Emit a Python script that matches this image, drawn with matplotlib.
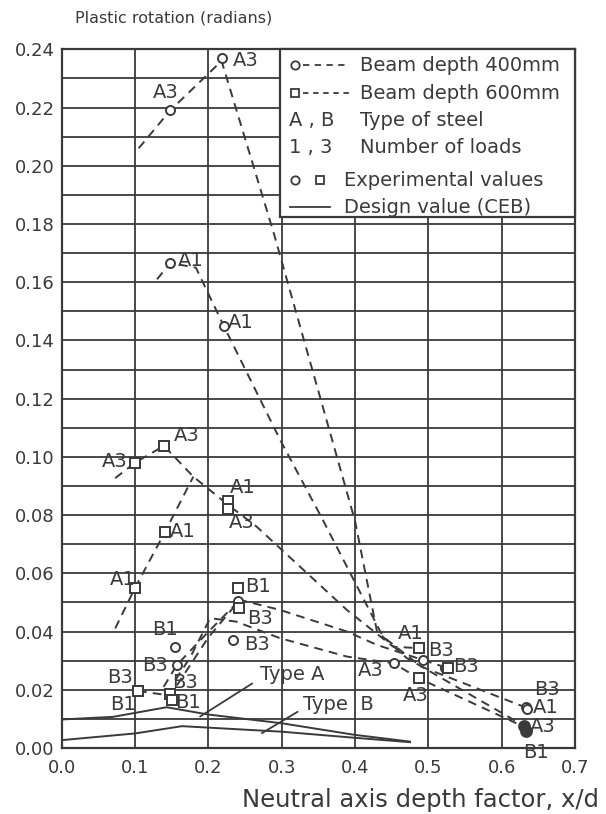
import numpy as np
import matplotlib
matplotlib.use('Agg')
import matplotlib.pyplot as plt
from matplotlib.patches import Rectangle
from matplotlib.lines import Line2D

INK = '#3a3a3a'
FONT = 'DejaVu Sans'

# ---------------- data ----------------
# Design values (CEB) - solid lines
typeA_x = [0.0, 0.07, 0.143, 0.20, 0.30, 0.40, 0.475]
typeA_y = [0.0098, 0.0107, 0.0140, 0.0115, 0.0085, 0.0045, 0.0022]
typeB_x = [0.0, 0.10, 0.164, 0.30, 0.40, 0.475]
typeB_y = [0.0027, 0.0050, 0.0075, 0.0056, 0.0035, 0.0020]

# dashed trend lines
a3_400_x = [0.105, 0.148, 0.218, 0.289, 0.400, 0.430, 0.470, 0.628]
a3_400_y = [0.206, 0.219, 0.236, 0.177, 0.078, 0.040, 0.031, 0.008]
a1_400_x = [0.130, 0.148, 0.183, 0.221, 0.298, 0.356, 0.438, 0.490, 0.632]
a1_400_y = [0.161, 0.1666, 0.165, 0.145, 0.1058, 0.0784, 0.0383, 0.028, 0.014]
a3_600_x = [0.073, 0.100, 0.1395, 0.1795, 0.227, 0.266, 0.389, 0.452, 0.4866]
a3_600_y = [0.0927, 0.098, 0.1038, 0.0932, 0.0835, 0.076, 0.0474, 0.0348, 0.0343]
a1_600_x = [0.073, 0.100, 0.141, 0.1795]
a1_600_y = [0.0411, 0.055, 0.0743, 0.0932]
b_600_x = [0.104, 0.148, 0.200, 0.243, 0.298, 0.389, 0.430, 0.493, 0.527]
b_600_y = [0.0196, 0.018, 0.038, 0.0509, 0.0474, 0.040, 0.0354, 0.0302, 0.0274]
b1_400_x = [0.139, 0.157, 0.198, 0.243]
b1_400_y = [0.021, 0.0285, 0.0394, 0.0509]
b3_400_x = [0.155, 0.175, 0.2025, 0.238, 0.298, 0.389, 0.4525, 0.4866, 0.620]
b3_400_y = [0.0234, 0.031, 0.0446, 0.0434, 0.0377, 0.0314, 0.0291, 0.024, 0.0085]

# experimental values, beam depth 400mm (circles)
circ_x = [0.218, 0.148, 0.148, 0.221, 0.100, 0.155, 0.157, 0.233, 0.241,
          0.4525, 0.493, 0.523, 0.633, 0.634]
circ_y = [0.237, 0.219, 0.1666, 0.145, 0.0978, 0.0348, 0.0285, 0.0371, 0.0505,
          0.0291, 0.0302, 0.0274, 0.014, 0.0135]
circ_lab = ['A3', 'A3', 'A1', 'A1', 'A3', 'B1', 'B3', 'B3', '',
            'A3', 'B3', '', 'A1', 'B3']
# filled cluster at x/d ~ 0.63
fill_x = [0.630, 0.633]
fill_y = [0.0075, 0.006]
fill_lab = ['A3', 'B1']

# experimental values, beam depth 600mm (squares)
sq_x = [0.1395, 0.100, 0.141, 0.227, 0.227, 0.100, 0.241, 0.242, 0.104, 0.104,
        0.148, 0.150, 0.4866, 0.527, 0.4866]
sq_y = [0.1038, 0.0978, 0.0743, 0.085, 0.0822, 0.0549, 0.0549, 0.048, 0.0196, 0.0196,
        0.0185, 0.0165, 0.0343, 0.0274, 0.024]
sq_lab = ['A3', '', 'A1', 'A1', 'A3', 'A1', 'B1', 'B3', 'B3', 'B1',
          'B3', 'B1', 'A1', 'B3', 'A3']

x_ticks = [0.0, 0.1, 0.2, 0.3, 0.4, 0.5, 0.6, 0.7]
y_ticks = [0.00, 0.02, 0.04, 0.06, 0.08, 0.10, 0.12, 0.14, 0.16, 0.18, 0.20, 0.22, 0.24]

# label offsets (pixels) - style only
circ_off = [(24, -2), (-5, 18), (20, 2), (17, 3), (-20, 2), (-10, 17), (-22, 0),
            (24, -5), (0, 0), (-23, -7), (18, 10), (0, 0), (20, 0), (20, 19)]
fill_off = [(19, 0), (10, -22)]
sq_off = [(23, 10), (0, 0), (18, 0), (15, 13), (14, -14), (-12, 9), (20, 2), (21, -10),
          (-18, 13), (-15, -14), (15, 12), (16, -3), (-8, 15), (18, 2), (-3, -17)]

# ---------------- figure ----------------
fig = plt.figure(figsize=(6.06, 8.14), dpi=100)
L, R, T, B = 61.7, 575.0, 49.3, 748.0
W, H = 606.0, 814.0
ax = fig.add_axes([L / W, 1 - B / H, (R - L) / W, (B - T) / H])
ax.set_xlim(0, 0.7)
ax.set_ylim(0, 0.24)

ax.set_xticks(x_ticks)
ax.set_xticklabels(['%.1f' % v for v in x_ticks])
ax.set_yticks(y_ticks)
ax.set_yticklabels(['%.2f' % v for v in y_ticks])
ax.set_yticks(np.arange(0.01, 0.24, 0.02), minor=True)
ax.tick_params(which='both', length=0, colors=INK, labelsize=13)
ax.tick_params(axis='x', pad=8)
ax.tick_params(axis='y', pad=5)
for lab in ax.get_xticklabels() + ax.get_yticklabels():
    lab.set_family(FONT)
ax.grid(True, which='both', color=INK, lw=1.3, zorder=0)
for s in ax.spines.values():
    s.set_color(INK)
    s.set_linewidth(1.6)

dash = (0, (4.5, 3.2))
for xs, ys in [(a3_400_x, a3_400_y), (a1_400_x, a1_400_y), (a3_600_x, a3_600_y),
               (a1_600_x, a1_600_y), (b_600_x, b_600_y), (b1_400_x, b1_400_y),
               (b3_400_x, b3_400_y)]:
    ax.plot(xs, ys, ls=dash, color=INK, lw=1.4, zorder=3)

ax.plot(typeA_x, typeA_y, color=INK, lw=1.4, zorder=3)
ax.plot(typeB_x, typeB_y, color=INK, lw=1.4, zorder=3)

ax.plot(circ_x, circ_y, 'o', ms=6.5, mfc='white', mec=INK, mew=1.4, zorder=4)
ax.plot(fill_x, fill_y, 'o', ms=8, mfc=INK, mec=INK, mew=1.2, zorder=4)
ax.plot(sq_x, sq_y, 's', ms=7, mfc='white', mec=INK, mew=1.4, zorder=4)

def lab_points(xs, ys, labs, offs):
    for x, y, t, o in zip(xs, ys, labs, offs):
        if t:
            ax.annotate(t, (x, y), xytext=o, textcoords='offset pixels',
                        ha='center', va='center', fontsize=14, color=INK,
                        family=FONT, zorder=5)

lab_points(circ_x, circ_y, circ_lab, circ_off)
lab_points(fill_x, fill_y, fill_lab, fill_off)
lab_points(sq_x, sq_y, sq_lab, sq_off)

# Type A / Type B annotations
ax.annotate('Type A', xy=(0.1887, typeA_y[3] - 0.0007), xytext=(0.314, 0.0251),
            ha='center', va='center', fontsize=14, color=INK, family=FONT,
            arrowprops=dict(arrowstyle='-', color=INK, lw=1.3, shrinkA=4, shrinkB=0,
                            relpos=(0.0, 0.3)), zorder=5)
ax.annotate('Type  B', xy=(0.273, 0.0051), xytext=(0.377, 0.0148),
            ha='center', va='center', fontsize=14, color=INK, family=FONT,
            arrowprops=dict(arrowstyle='-', color=INK, lw=1.3, shrinkA=2, shrinkB=0,
                            relpos=(0.0, 0.3)), zorder=5)

# ---------------- legend box ----------------
def fx(px):
    return (px - L) / (R - L)

def fy(py):
    return (B - py) / (B - T)

tr = ax.transAxes
ax.add_patch(Rectangle((fx(280), fy(217)), fx(575) - fx(280), fy(49.3) - fy(217),
                       transform=tr, facecolor='white', edgecolor=INK, lw=1.6,
                       zorder=6, clip_on=False))
rows = [65, 93, 120, 147, 180, 207]
lkw = dict(transform=tr, fontsize=14, color=INK, family=FONT, va='center', ha='left', zorder=7)
# row 1
ax.add_line(Line2D([fx(295)], [fy(rows[0])], marker='o', ms=6, mfc='white', mec=INK,
                   mew=1.3, transform=tr, zorder=7))
ax.add_line(Line2D([fx(303), fx(350)], [fy(rows[0])] * 2, ls=(0, (3.5, 3)), color=INK,
                   lw=1.3, transform=tr, zorder=7))
ax.text(fx(360), fy(rows[0]), 'Beam depth 400mm', **lkw)
# row 2
ax.add_line(Line2D([fx(295)], [fy(rows[1])], marker='s', ms=6, mfc='white', mec=INK,
                   mew=1.3, transform=tr, zorder=7))
ax.add_line(Line2D([fx(303), fx(352)], [fy(rows[1])] * 2, ls=(0, (3.0, 2.6)), color=INK,
                   lw=1.3, transform=tr, zorder=7))
ax.text(fx(360), fy(rows[1]), 'Beam depth 600mm', **lkw)
# row 3, 4
ax.text(fx(289), fy(rows[2]), 'A , B', **lkw)
ax.text(fx(360), fy(rows[2]), 'Type of steel', **lkw)
ax.text(fx(289), fy(rows[3]), '1 , 3', **lkw)
ax.text(fx(360), fy(rows[3]), 'Number of loads', **lkw)
# row 5
ax.add_line(Line2D([fx(295)], [fy(rows[4])], marker='o', ms=6, mfc='white', mec=INK,
                   mew=1.3, transform=tr, zorder=7))
ax.add_line(Line2D([fx(320)], [fy(rows[4])], marker='s', ms=6, mfc='white', mec=INK,
                   mew=1.3, transform=tr, zorder=7))
ax.text(fx(344), fy(rows[4]), 'Experimental values', **lkw)
# row 6
ax.add_line(Line2D([fx(290), fx(330)], [fy(rows[5])] * 2, color=INK, lw=1.3,
                   transform=tr, zorder=7))
ax.text(fx(344), fy(rows[5]), 'Design value (CEB)', **lkw)

# axis titles
fig.text(75 / W, 1 - 18 / H, 'Plastic rotation (radians)', ha='left', va='center',
         fontsize=11.5, color=INK, family=FONT)
fig.text(599 / W, 1 - 800 / H, 'Neutral axis depth factor, x/d', ha='right', va='center',
         fontsize=17.5, color=INK, family=FONT)

fig.savefig('out.png', dpi=100, facecolor='white')
